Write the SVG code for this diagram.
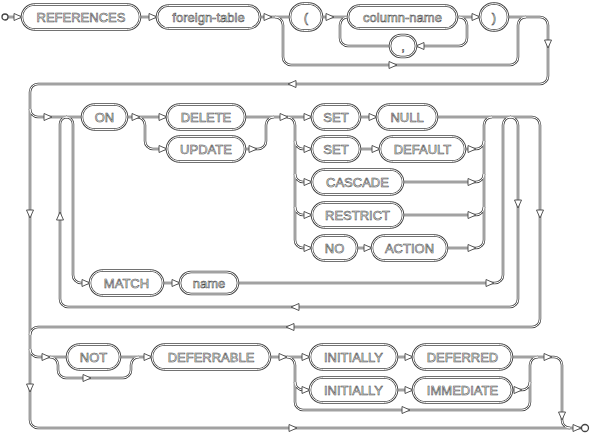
<svg xmlns="http://www.w3.org/2000/svg" xmlns:xlink="http://www.w3.org/1999/xlink" width="592" height="439" viewBox="0 0 592 439">
<style>
.wo{fill:none;stroke:#444;stroke-width:2.5}
.wi{fill:none;stroke:#fff;stroke-width:1}
.bo{fill:#fff;stroke:#444;stroke-width:2.5}
.bi{fill:none;stroke:#fff;stroke-width:1}
.t{font-family:"Liberation Sans",Arial,sans-serif;font-size:13px;text-anchor:middle;fill:#fff;stroke:#444;stroke-width:0.55}
.ah{fill:#fff;stroke:#444;stroke-width:0.9}
.term{fill:#fff;stroke:#444;stroke-width:1.3}
</style>
<defs>
<path id="ar" d="M0,0 L-8,-3.5 L-8,3.5 Z"/>
</defs>
<rect width="592" height="439" fill="#fff"/>
<g id="connectors">
<g class="wo">
<g id="wires">
<path d="M8,17 H22"/>
<path d="M140,17 H157"/>
<path d="M260,17 H290"/>
<path d="M275,17 A8,8 0 0 1 283,25 V57 A8,8 0 0 0 291,65 H510 A8,8 0 0 0 518,57 V25 A8,8 0 0 1 526,17"/>
<path d="M322,17 H348"/>
<path d="M390,46 H348 A8,8 0 0 1 340,38 V25 A8,8 0 0 1 348,17"/>
<path d="M457,17 H480"/>
<path d="M459,17 A8,8 0 0 1 467,25 V38 A8,8 0 0 1 459,46 H415"/>
<path d="M508,17 H540 A8,8 0 0 1 548,25 V76 A8,8 0 0 1 540,84 H38 A8,8 0 0 0 30,92 V420 A8,8 0 0 0 38,428 H581"/>
<path d="M30,109 A8,8 0 0 0 38,117 H82"/>
<path d="M510,117 A8,8 0 0 1 518,125 V299 A8,8 0 0 1 510,307 H68 A8,8 0 0 1 60,299 V124 A7,7 0 0 1 67,117"/>
<path d="M66,117 A7,7 0 0 1 73,124 V275 A8,8 0 0 0 81,283 H90"/>
<path d="M127,117 H167"/>
<path d="M137,117 A8,8 0 0 1 145,125 V141 A8,8 0 0 0 153,149 H167"/>
<path d="M245,117 H312"/>
<path d="M245,149 H258 A8,8 0 0 0 266,141 V125 A8,8 0 0 1 274,117"/>
<path d="M287,117 A8,8 0 0 1 295,125 V240 A8,8 0 0 0 303,248 H312"/>
<path d="M295,141 A8,8 0 0 0 303,149 H312"/>
<path d="M295,174 A8,8 0 0 0 303,182 H312"/>
<path d="M295,207 A8,8 0 0 0 303,215 H312"/>
<path d="M360,117 H377"/>
<path d="M437,117 H532 A8,8 0 0 1 540,125 V319 A8,8 0 0 1 532,327 H38 A8,8 0 0 0 30,335"/>
<path d="M360,149 H380"/>
<path d="M465,149 H476 A8,8 0 0 0 484,141"/>
<path d="M447,248 H476 A8,8 0 0 0 484,240 V125 A8,8 0 0 1 492,117"/>
<path d="M403,182 H476 A8,8 0 0 0 484,174"/>
<path d="M403,215 H476 A8,8 0 0 0 484,207"/>
<path d="M357,248 H372"/>
<path d="M163,283 H180"/>
<path d="M238,283 H495 A8,8 0 0 0 503,275 V125 A8,8 0 0 1 511,117"/>
<path d="M30,349 A8,8 0 0 0 38,357 H67"/>
<path d="M50,357 A8,8 0 0 1 58,365 V370 A8,8 0 0 0 66,378 H123 A8,8 0 0 0 131,370 V365 A8,8 0 0 1 139,357"/>
<path d="M120,357 H152"/>
<path d="M270,357 H310"/>
<path d="M287,357 A8,8 0 0 1 295,365 V382 A8,8 0 0 0 303,390 H310"/>
<path d="M295,382 V402 A8,8 0 0 0 303,410 H522 A8,8 0 0 0 530,402 V365 A8,8 0 0 1 538,357"/>
<path d="M397,357 H413"/>
<path d="M512,357 H554 A8,8 0 0 1 562,365 V420 A8,8 0 0 0 570,428"/>
<path d="M397,390 H413"/>
<path d="M512,390 H522 A8,8 0 0 0 530,382"/>
</g>
</g>
<use xlink:href="#wires" href="#wires" class="wi"/>
<g class="ah">
<use href="#ar" transform="translate(22,17)"/>
<use href="#ar" transform="translate(157,17)"/>
<use href="#ar" transform="translate(272,17)"/>
<use href="#ar" transform="translate(397,65)"/>
<use href="#ar" transform="translate(334,17)"/>
<use href="#ar" transform="translate(416,46) rotate(180)"/>
<use href="#ar" transform="translate(480,17)"/>
<use href="#ar" transform="translate(548,48) rotate(90)"/>
<use href="#ar" transform="translate(288,84) rotate(180)"/>
<use href="#ar" transform="translate(52,117)"/>
<use href="#ar" transform="translate(140,117)"/>
<use href="#ar" transform="translate(167,117)"/>
<use href="#ar" transform="translate(167,149)"/>
<use href="#ar" transform="translate(257,149)"/>
<use href="#ar" transform="translate(288,117)"/>
<use href="#ar" transform="translate(312,117)"/>
<use href="#ar" transform="translate(312,149)"/>
<use href="#ar" transform="translate(312,182)"/>
<use href="#ar" transform="translate(312,215)"/>
<use href="#ar" transform="translate(312,248)"/>
<use href="#ar" transform="translate(377,117)"/>
<use href="#ar" transform="translate(380,149)"/>
<use href="#ar" transform="translate(372,248)"/>
<use href="#ar" transform="translate(476,149)"/>
<use href="#ar" transform="translate(476,182)"/>
<use href="#ar" transform="translate(476,215)"/>
<use href="#ar" transform="translate(476,248)"/>
<use href="#ar" transform="translate(518,208) rotate(90)"/>
<use href="#ar" transform="translate(540,218) rotate(90)"/>
<use href="#ar" transform="translate(60,212) rotate(-90)"/>
<use href="#ar" transform="translate(291,307) rotate(180)"/>
<use href="#ar" transform="translate(286,327) rotate(180)"/>
<use href="#ar" transform="translate(30,218) rotate(90)"/>
<use href="#ar" transform="translate(90,283)"/>
<use href="#ar" transform="translate(180,283)"/>
<use href="#ar" transform="translate(494,283)"/>
<use href="#ar" transform="translate(50,357)"/>
<use href="#ar" transform="translate(91,378)"/>
<use href="#ar" transform="translate(152,357)"/>
<use href="#ar" transform="translate(287,357)"/>
<use href="#ar" transform="translate(310,357)"/>
<use href="#ar" transform="translate(310,390)"/>
<use href="#ar" transform="translate(410,410)"/>
<use href="#ar" transform="translate(413,357)"/>
<use href="#ar" transform="translate(413,390)"/>
<use href="#ar" transform="translate(522,390)"/>
<use href="#ar" transform="translate(552,357)"/>
<use href="#ar" transform="translate(562,420) rotate(90)"/>
<use href="#ar" transform="translate(581,428)"/>
<use href="#ar" transform="translate(30,392) rotate(90)"/>
<use href="#ar" transform="translate(297,428)"/>
</g>
</g>
<g id="start"><circle class="term" cx="5" cy="17" r="3"/></g>
<g id="end"><circle class="term" cx="585" cy="428" r="3.5"/></g>
<g id="n-references"><rect class="bo" x="22" y="4.5" width="118" height="25" rx="12.5"/><rect class="bi" x="22" y="4.5" width="118" height="25" rx="12.5"/><text class="t" x="81" y="21.7">REFERENCES</text></g>
<g id="n-foreign-table"><rect class="bo" x="157" y="5.5" width="103" height="23" rx="11.5"/><rect class="bi" x="157" y="5.5" width="103" height="23" rx="11.5"/><text class="t" x="208.5" y="21.5">foreign-table</text></g>
<g id="n-lparen"><rect class="bo" x="290" y="3.5" width="32" height="27" rx="13.5"/><rect class="bi" x="290" y="3.5" width="32" height="27" rx="13.5"/><text class="t" x="306" y="21.7">(</text></g>
<g id="n-column-name"><rect class="bo" x="348" y="5.5" width="109" height="23" rx="11.5"/><rect class="bi" x="348" y="5.5" width="109" height="23" rx="11.5"/><text class="t" x="402.5" y="21.5">column-name</text></g>
<g id="n-comma"><rect class="bo" x="390" y="35" width="26" height="22" rx="11"/><rect class="bi" x="390" y="35" width="26" height="22" rx="11"/><text class="t" x="403" y="50.5">,</text></g>
<g id="n-rparen"><rect class="bo" x="480" y="3.5" width="28" height="27" rx="13.5"/><rect class="bi" x="480" y="3.5" width="28" height="27" rx="13.5"/><text class="t" x="494" y="21.7">)</text></g>
<g id="n-on"><rect class="bo" x="82" y="104.5" width="45" height="25" rx="12.5"/><rect class="bi" x="82" y="104.5" width="45" height="25" rx="12.5"/><text class="t" x="104.5" y="121.7">ON</text></g>
<g id="n-delete"><rect class="bo" x="167" y="104.5" width="78" height="25" rx="12.5"/><rect class="bi" x="167" y="104.5" width="78" height="25" rx="12.5"/><text class="t" x="206" y="121.7">DELETE</text></g>
<g id="n-update"><rect class="bo" x="167" y="136.5" width="78" height="25" rx="12.5"/><rect class="bi" x="167" y="136.5" width="78" height="25" rx="12.5"/><text class="t" x="206" y="153.7">UPDATE</text></g>
<g id="n-set1"><rect class="bo" x="312" y="104.5" width="48" height="25" rx="12.5"/><rect class="bi" x="312" y="104.5" width="48" height="25" rx="12.5"/><text class="t" x="336" y="121.7">SET</text></g>
<g id="n-null"><rect class="bo" x="377" y="104.5" width="60" height="25" rx="12.5"/><rect class="bi" x="377" y="104.5" width="60" height="25" rx="12.5"/><text class="t" x="407" y="121.7">NULL</text></g>
<g id="n-set2"><rect class="bo" x="312" y="136.5" width="48" height="25" rx="12.5"/><rect class="bi" x="312" y="136.5" width="48" height="25" rx="12.5"/><text class="t" x="336" y="153.7">SET</text></g>
<g id="n-default"><rect class="bo" x="380" y="136.5" width="85" height="25" rx="12.5"/><rect class="bi" x="380" y="136.5" width="85" height="25" rx="12.5"/><text class="t" x="422.5" y="153.7">DEFAULT</text></g>
<g id="n-cascade"><rect class="bo" x="312" y="169.5" width="91" height="25" rx="12.5"/><rect class="bi" x="312" y="169.5" width="91" height="25" rx="12.5"/><text class="t" x="357.5" y="186.7">CASCADE</text></g>
<g id="n-restrict"><rect class="bo" x="312" y="202.5" width="91" height="25" rx="12.5"/><rect class="bi" x="312" y="202.5" width="91" height="25" rx="12.5"/><text class="t" x="357.5" y="219.7">RESTRICT</text></g>
<g id="n-no"><rect class="bo" x="312" y="235.5" width="45" height="25" rx="12.5"/><rect class="bi" x="312" y="235.5" width="45" height="25" rx="12.5"/><text class="t" x="334.5" y="252.7">NO</text></g>
<g id="n-action"><rect class="bo" x="372" y="235.5" width="75" height="25" rx="12.5"/><rect class="bi" x="372" y="235.5" width="75" height="25" rx="12.5"/><text class="t" x="409.5" y="252.7">ACTION</text></g>
<g id="n-match"><rect class="bo" x="90" y="270.5" width="73" height="25" rx="12.5"/><rect class="bi" x="90" y="270.5" width="73" height="25" rx="12.5"/><text class="t" x="126.5" y="287.7">MATCH</text></g>
<g id="n-name"><rect class="bo" x="180" y="272" width="58" height="22" rx="11"/><rect class="bi" x="180" y="272" width="58" height="22" rx="11"/><text class="t" x="209" y="287.5">name</text></g>
<g id="n-not"><rect class="bo" x="67" y="344.5" width="53" height="25" rx="12.5"/><rect class="bi" x="67" y="344.5" width="53" height="25" rx="12.5"/><text class="t" x="93.5" y="361.7">NOT</text></g>
<g id="n-deferrable"><rect class="bo" x="152" y="344.5" width="118" height="25" rx="12.5"/><rect class="bi" x="152" y="344.5" width="118" height="25" rx="12.5"/><text class="t" x="211" y="361.7">DEFERRABLE</text></g>
<g id="n-initially1"><rect class="bo" x="310" y="344.5" width="87" height="25" rx="12.5"/><rect class="bi" x="310" y="344.5" width="87" height="25" rx="12.5"/><text class="t" x="353.5" y="361.7">INITIALLY</text></g>
<g id="n-deferred"><rect class="bo" x="413" y="344.5" width="99" height="25" rx="12.5"/><rect class="bi" x="413" y="344.5" width="99" height="25" rx="12.5"/><text class="t" x="462.5" y="361.7">DEFERRED</text></g>
<g id="n-initially2"><rect class="bo" x="310" y="377.5" width="87" height="25" rx="12.5"/><rect class="bi" x="310" y="377.5" width="87" height="25" rx="12.5"/><text class="t" x="353.5" y="394.7">INITIALLY</text></g>
<g id="n-immediate"><rect class="bo" x="413" y="377.5" width="99" height="25" rx="12.5"/><rect class="bi" x="413" y="377.5" width="99" height="25" rx="12.5"/><text class="t" x="462.5" y="394.7">IMMEDIATE</text></g>
</svg>
